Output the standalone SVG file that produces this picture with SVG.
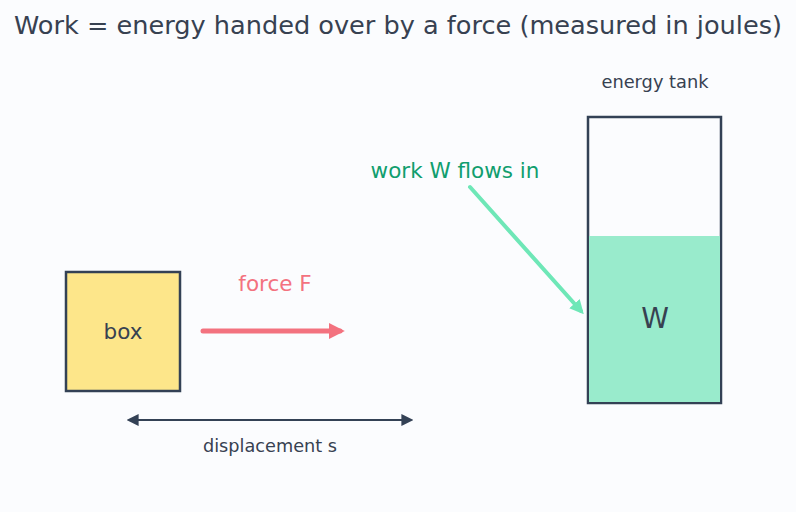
<svg xmlns="http://www.w3.org/2000/svg" width="796" height="512" viewBox="0 0 796 512">
<style>
text{font-family:"DejaVu Sans","Noto Sans",sans-serif;text-anchor:middle}
.dark{fill:#374151}
</style>
<defs>
<marker id="mf" viewBox="0 0 10 10" refX="7" refY="5" markerWidth="3.2" markerHeight="3.2" orient="auto"><path d="M0,0 L10,5 L0,10 z" fill="#f3727f"/></marker>
<marker id="mg" viewBox="0 0 10 10" refX="7" refY="5" markerWidth="3.5" markerHeight="3.5" orient="auto"><path d="M0,0 L10,5 L0,10 z" fill="#6ee7b7"/></marker>
<marker id="md" viewBox="0 0 10 10" refX="8" refY="5" markerWidth="6" markerHeight="6" orient="auto-start-reverse"><path d="M0,0 L10,5 L0,10 z" fill="#334155"/></marker>
</defs>
<rect width="796" height="512" fill="#fbfcfe"/>
<text x="398" y="34" font-size="25.5" class="dark" textLength="768" lengthAdjust="spacingAndGlyphs">Work = energy handed over by a force (measured in joules)</text>
<g id="box">
<rect x="66" y="272" width="114" height="119" fill="#fde68a" stroke="#334155" stroke-width="2.5"/>
<text x="123" y="339" font-size="21.5" class="dark">box</text>
</g>
<g id="tank">
<text x="655" y="87.5" font-size="17.8" class="dark">energy tank</text>
<rect x="588" y="117" width="133" height="286" fill="#fbfcfe" stroke="#334155" stroke-width="2.5"/>
<rect x="589" y="236" width="131" height="166" fill="#99ebcc"/>
<text x="655" y="328" font-size="28" class="dark">W</text>
</g>
<g id="connectors">
<line x1="203" y1="331" x2="340" y2="331" stroke="#f3727f" stroke-width="5" stroke-linecap="round" marker-end="url(#mf)"/>
<text x="275" y="291" font-size="21.5" fill="#f3727f">force F</text>
<line x1="470" y1="187" x2="581" y2="311" stroke="#6ee7b7" stroke-width="4" stroke-linecap="round" marker-end="url(#mg)"/>
<text x="455" y="178" font-size="21.5" fill="#109e6e">work W flows in</text>
<line x1="129" y1="420" x2="411" y2="420" stroke="#334155" stroke-width="2" marker-start="url(#md)" marker-end="url(#md)"/>
<text x="270" y="451.5" font-size="17.7" class="dark">displacement s</text>
</g>
</svg>
